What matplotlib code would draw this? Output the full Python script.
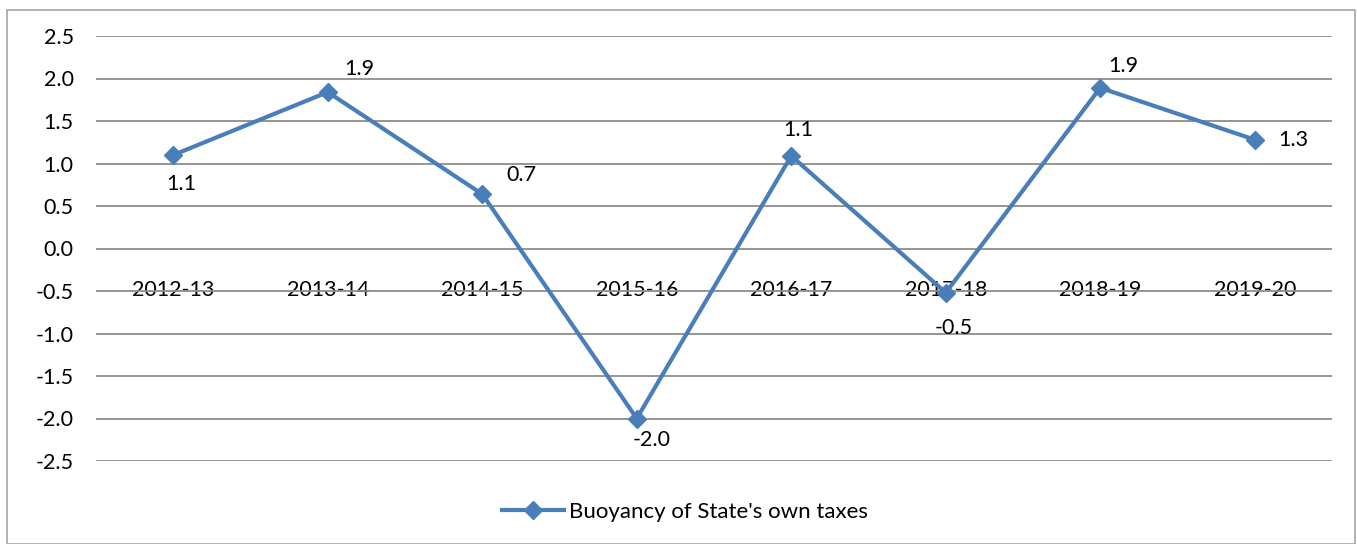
import matplotlib
matplotlib.use("Agg")
import matplotlib.pyplot as plt
from matplotlib.patches import Rectangle

categories = ["2012-13", "2013-14", "2014-15", "2015-16", "2016-17", "2017-18", "2018-19", "2019-20"]
buoyancy = [1.1, 1.84, 0.64, -2.0, 1.09, -0.52, 1.89, 1.28]
value_labels = ["1.1", "1.9", "0.7", "-2.0", "1.1", "-0.5", "1.9", "1.3"]
series_name = "Buoyancy of State's own taxes"
yticks = [-2.5, -2.0, -1.5, -1.0, -0.5, 0.0, 0.5, 1.0, 1.5, 2.0, 2.5]

# label offsets in pixels (dx, dy; dy positive = up)
label_offsets = [(8, -29), (32, 23), (39, 19), (15, -22), (7, 26), (8, -35), (23, 22), (39, 0)]

plt.rcParams['font.family'] = ['Lato', 'DejaVu Sans']

W, H = 1357, 544
fs = 15.5
fig = plt.figure(figsize=(W / 100, H / 100), dpi=100)
fig.patches.append(Rectangle((7 / W, 0), (1355 - 7) / W, (H - 10) / H, transform=fig.transFigure,
                             fill=False, edgecolor='#a6a6a6', linewidth=1.2))

ax = fig.add_axes([96 / W, (H - 461) / H, (1332 - 96) / W, (461 - 36) / H])
x = list(range(len(categories)))
color = '#4a7ebb'
ax.plot(x, buoyancy, color=color, linewidth=3, marker='D', markersize=9, label=series_name, zorder=3)

ax.set_xlim(-0.5, len(categories) - 0.5)
ax.set_ylim(-2.5, 2.5)
ax.set_yticks(yticks)
ax.set_yticklabels([f"{v:.1f}" for v in yticks], fontsize=fs)
ax.tick_params(axis='y', length=0, pad=16)
ax.grid(axis='y', color='#8c8c8c', linewidth=1.3, zorder=0)
ax.set_axisbelow(True)
for s in ax.spines.values():
    s.set_visible(False)

ax.spines['bottom'].set_position(('data', 0))
ax.set_xticks(x)
ax.set_xticklabels(categories, fontsize=fs)
ax.tick_params(axis='x', length=0, pad=23)

for xi, yi, lab, (dx, dy) in zip(x, buoyancy, value_labels, label_offsets):
    ax.annotate(lab, (xi, yi), xytext=(dx * 0.72, dy * 0.72), textcoords='offset points',
                ha='center', va='center', fontsize=fs, zorder=4)

fig.legend(loc='center', bbox_to_anchor=(685 / W, (H - 512) / H), frameon=False,
           fontsize=16, handlelength=2.8, handletextpad=0.2)

fig.savefig("out.png", dpi=100)
